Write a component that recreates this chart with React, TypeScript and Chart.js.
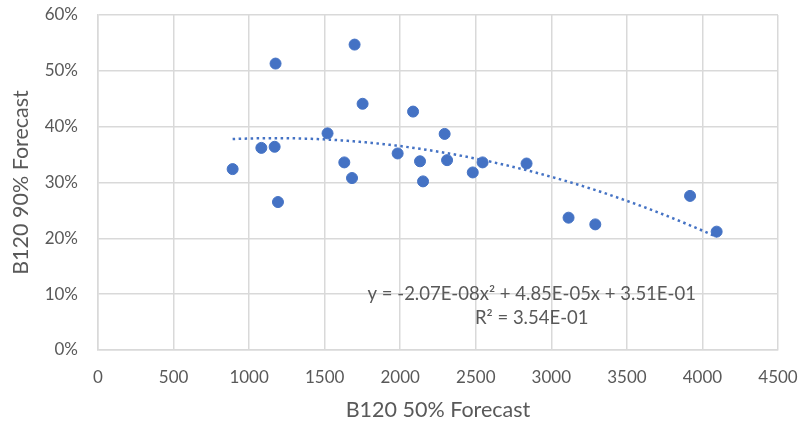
import React, { useEffect, useRef } from "react";
import { Chart, registerables } from "chart.js";

Chart.register(...registerables);

const forecast50: number[] = [
  891, 1081, 1169, 1175, 1191, 1519, 1630, 1681, 1698, 1751, 1983, 2085,
  2131, 2151, 2294, 2310, 2480, 2545, 2836, 3114, 3291, 3918, 4094,
];
const forecast90: number[] = [
  0.324, 0.362, 0.364, 0.513, 0.265, 0.388, 0.336, 0.308, 0.547, 0.441, 0.352,
  0.427, 0.338, 0.302, 0.387, 0.34, 0.318, 0.336, 0.334, 0.237, 0.225, 0.276,
  0.212,
];
// Polynomial trendline coefficients as displayed: a*x^2 + b*x + c
const trendCoefficients: number[] = [-2.07e-8, 4.85e-5, 0.351];
const equationLines: string[] = [
  "y = -2.07E-08x² + 4.85E-05x + 3.51E-01",
  "R² = 3.54E-01",
];
const xTitle = "B120 50% Forecast";
const yTitle = "B120 90% Forecast";

const FONT = "Lato, 'Open Sans', sans-serif";
const TEXT = "#595959";
const GRID = "#D9D9D9";
const BLUE = "#4472C4";

export default function App() {
  const ref = useRef<HTMLCanvasElement | null>(null);

  useEffect(() => {
    document.body.style.margin = "0";
    const canvas = ref.current;
    if (!canvas) return;

    const points = forecast50.map((x, i) => ({ x, y: forecast90[i] }));
    const xMin = Math.min(...forecast50);
    const xMax = Math.max(...forecast50);
    const [a, b, c] = trendCoefficients;
    const trend: { x: number; y: number }[] = [];
    const steps = 80;
    for (let i = 0; i <= steps; i++) {
      const x = xMin + ((xMax - xMin) * i) / steps;
      trend.push({ x, y: a * x * x + b * x + c });
    }

    const equationPlugin = {
      id: "equation",
      afterDatasetsDraw(chart: any) {
        const { ctx, scales } = chart;
        const cx = scales.x.getPixelForValue(2870);
        const cy = scales.y.getPixelForValue(0.1);
        ctx.save();
        ctx.font = `18.5px ${FONT}`;
        ctx.fillStyle = TEXT;
        ctx.textAlign = "center";
        ctx.textBaseline = "middle";
        equationLines.forEach((t, i) => ctx.fillText(t, cx, cy + i * 24));
        ctx.restore();
      },
    };

    const chart = new Chart(canvas, {
      type: "scatter",
      data: {
        datasets: [
          {
            type: "line",
            data: trend,
            borderColor: BLUE,
            borderWidth: 2.5,
            borderDash: [2.5, 3.5],
            pointRadius: 0,
            fill: false,
            order: 0,
          } as any,
          {
            data: points,
            backgroundColor: BLUE,
            borderColor: BLUE,
            pointRadius: 5.5,
            borderWidth: 1,
            order: 1,
          },
        ],
      },
      options: {
        responsive: false,
        animation: false,
        layout: { padding: { top: 15, right: 26, left: 0, bottom: 0 } },
        plugins: {
          legend: { display: false },
          tooltip: { enabled: false },
        },
        scales: {
          x: {
            type: "linear",
            min: 0,
            max: 4500,
            afterFit: (s: any) => {
              s.height = 75;
              s.paddingLeft = 0;
              s.paddingRight = 0;
            },
            ticks: {
              stepSize: 500,
              color: TEXT,
              font: { family: FONT, size: 17 },
              padding: 17,
              maxRotation: 0,
              callback: (v: any) => String(v),
            },
            grid: { color: GRID, lineWidth: 1.5, drawTicks: false },
            border: { color: GRID, width: 1.5 },
            title: {
              display: true,
              text: xTitle,
              color: TEXT,
              font: { family: FONT, size: 21.5 },
              padding: { top: 0, bottom: 2 },
            },
          },
          y: {
            min: 0,
            max: 0.6,
            afterFit: (s: any) => {
              s.width = 98;
              s.paddingTop = 0;
              s.paddingBottom = 0;
            },
            ticks: {
              stepSize: 0.1,
              color: TEXT,
              font: { family: FONT, size: 17 },
              padding: 20,
              callback: (v: any) => `${Math.round(Number(v) * 100)}%`,
            },
            grid: { color: GRID, lineWidth: 1.5, drawTicks: false },
            border: { color: GRID, width: 1.5 },
            title: {
              display: true,
              text: yTitle,
              color: TEXT,
              font: { family: FONT, size: 21.5 },
              padding: { top: 8, bottom: 0 },
            },
          },
        },
      },
      plugins: [equationPlugin],
    });

    return () => chart.destroy();
  }, []);

  return (
    <div style={{ width: 804, height: 425, background: "#fff" }}>
      <canvas ref={ref} width={804} height={425} style={{ display: "block" }} />
    </div>
  );
}
